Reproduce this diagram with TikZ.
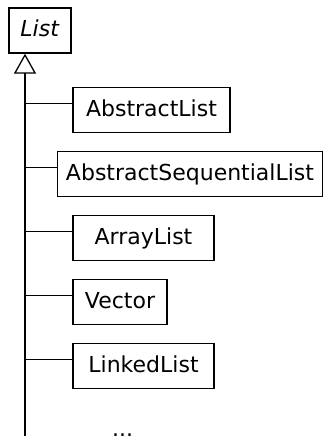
\documentclass[tikz,border=0pt]{standalone}
\usepackage{fontspec}
\setmainfont{DejaVu Sans}
\usetikzlibrary{arrows.meta}
\tikzset{
  classbox/.style={draw,line width=1.3pt,inner sep=0pt,minimum height=45pt,
    text height=17pt,text depth=5pt,font=\fontsize{22}{26}\selectfont},
  more/.style={classbox,draw=none},
  spine/.style={line width=2pt},
  link/.style={line width=1.3pt}
}

\begin{document}
\begin{tikzpicture}[x=1pt,y=-1pt]
    \useasboundingbox (0,0) rectangle (324,436);

    % interface
    \node[classbox,minimum width=62pt] (list) at (40,30.5) {\textit{List}};

    % implementing classes
    \node[classbox,minimum width=157pt] (abstractlist) at (151.5,110) {AbstractList};
    \node[classbox,minimum width=265pt] (abstractsequentiallist) at (190,174) {AbstractSequentialList};
    \node[classbox,minimum width=141pt] (arraylist) at (143.5,238) {ArrayList};
    \node[classbox,minimum width=94pt] (vector) at (120,302) {Vector};
    \node[classbox,minimum width=141pt] (linkedlist) at (143.5,366) {LinkedList};
    \node[more] (others) at (122.5,430.5) {...};

    % inheritance spine
    \coordinate (spinebottom) at (25,445);
    \draw[spine,-{Triangle[open,fill=white,width=22pt,length=20pt,line width=1.3pt]}]
      (spinebottom) -- (spinebottom |- list.south);

    % branches
    \foreach \n in {abstractlist,abstractsequentiallist,arraylist,vector,linkedlist}{
      \coordinate (c\n) at ([yshift=6.5pt]\n.west);
      \draw[link] (c\n) -- (c\n -| spinebottom);
    }
\end{tikzpicture}
\end{document}
